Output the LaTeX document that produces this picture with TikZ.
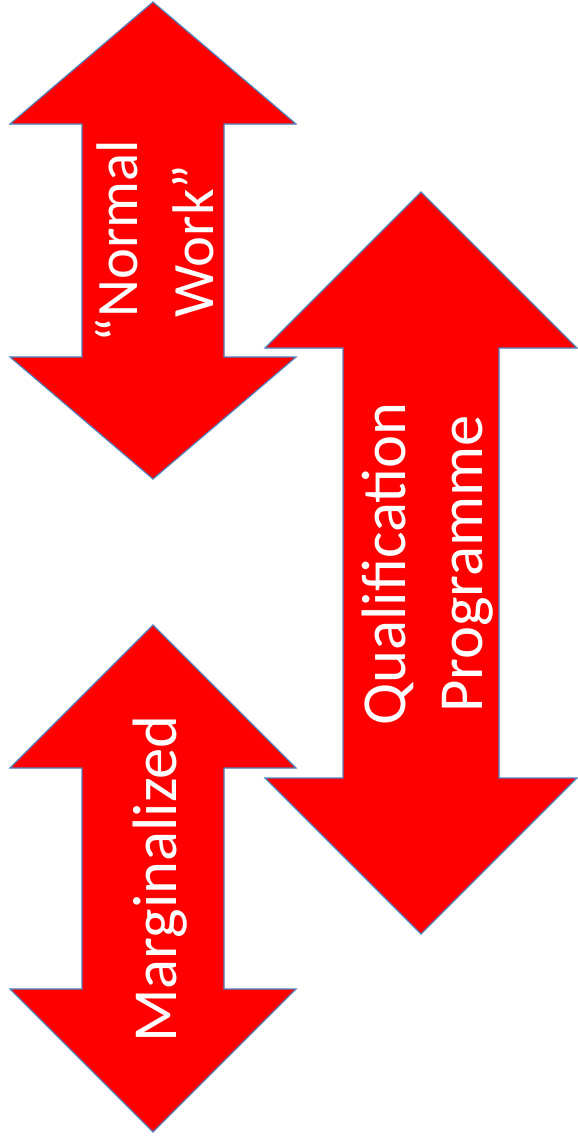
\documentclass[tikz,border=0pt]{standalone}
\usepackage{fontspec}
\setmainfont{Carlito}
\definecolor{arrowred}{HTML}{FF0000}
\definecolor{edgeblue}{HTML}{4F81BD}

\begin{document}
\begin{tikzpicture}[x=0.75pt, y=-0.75pt,
  dblarrow/.style={fill=arrowred, draw=edgeblue, line width=0.9pt, line join=miter},
  lbl/.style={text=white, rotate=90, align=center, inner sep=0pt},
  big/.style={font=\fontsize{47}{57.75}\selectfont},
  small/.style={font=\fontsize{44}{57}\selectfont}]
\useasboundingbox (0,0) rectangle (578,1136);
% ---------------- arrow bodies ----------------
% centre x / top tip / bottom tip / head half width / shaft half width / head height
\foreach \cx/\tp/\bt/\hw/\sw/\hh in
  {153/2/479/143/71/122, 421/192/934/156/78/156, 153/625/1132/143/71/143}{
  \draw[dblarrow] (\cx,\tp) -- ({\cx+\hw},{\tp+\hh}) -- ({\cx+\sw},{\tp+\hh})
    -- ({\cx+\sw},{\bt-\hh}) -- ({\cx+\hw},{\bt-\hh}) -- (\cx,\bt)
    -- ({\cx-\hw},{\bt-\hh}) -- ({\cx-\sw},{\bt-\hh})
    -- ({\cx-\sw},{\tp+\hh}) -- ({\cx-\hw},{\tp+\hh}) -- cycle;}
% ---------------- labels ----------------
\node[lbl, small] (normal) at (155,241) {“Normal\\Work”};
\node[lbl, big] (qual) at (428,564) {Qualification\\Programme};
\node[lbl, big] (marg) at (160,879) {Marginalized};
\end{tikzpicture}
\end{document}
